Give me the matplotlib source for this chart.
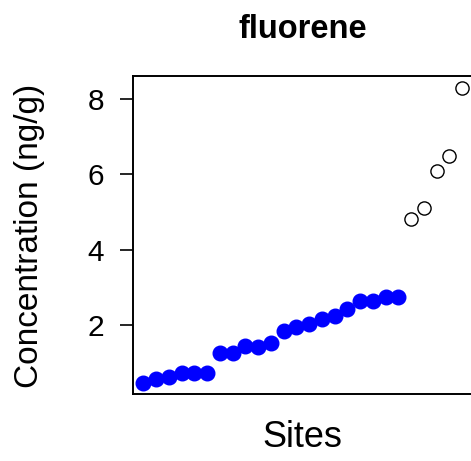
import matplotlib
matplotlib.use("Agg")
import matplotlib.pyplot as plt
import numpy as np

plt.rcParams['font.family'] = ['Liberation Sans', 'DejaVu Sans']

title = "fluorene"
xlabel = "Sites"
ylabel = "Concentration (ng/g)"

# values below the outlier threshold (filled blue), sorted by site rank
normal_values = [0.46, 0.56, 0.63, 0.74, 0.72, 0.72,
                 1.27, 1.25, 1.45, 1.43, 1.54,
                 1.85, 1.94, 2.03, 2.16, 2.24, 2.42, 2.65, 2.65, 2.74, 2.74]
# high values (open circles)
high_values = [4.81, 5.12, 6.10, 6.49, 8.28]
yticks = [2, 4, 6, 8]

n_norm = len(normal_values)
x_norm = np.arange(1, n_norm + 1)
x_high = np.arange(n_norm + 1, n_norm + len(high_values) + 1)

W, H = 471, 461
fig = plt.figure(figsize=(W / 100, H / 100), dpi=100)
left, right, top, bottom = 132.5, 473.0, 76.0, 394.0
ax = fig.add_axes([left / W, (H - bottom) / H, (right - left) / W, (bottom - top) / H])

ax.plot(x_norm, normal_values, linestyle='none', marker='o', markersize=10.5,
        color='#0000ff', markeredgecolor='#0000ff', clip_on=False)
ax.plot(x_high, high_values, linestyle='none', marker='o', markersize=9.5,
        markerfacecolor='none', markeredgecolor='black', markeredgewidth=1.0, clip_on=False)

ax.set_xlim(0.15, 26.85)
ax.set_ylim(0.175, 8.61)
ax.set_xticks([])
ax.set_yticks(yticks)
ax.set_yticklabels([str(t) for t in yticks])
ax.tick_params(axis='y', direction='out', length=9.5, width=1.2, pad=11, labelsize=21.5)
for s in ax.spines.values():
    s.set_linewidth(1.4)

fig.text((left + right) / 2 / W, 1 - 38 / H, title, ha='center', va='baseline',
         fontsize=23.5, fontweight='bold')
fig.text((left + right) / 2 / W, 1 - 447 / H, xlabel, ha='center', va='baseline',
         fontsize=26)
fig.text(30 / W, 1 - 236 / H, ylabel, ha='center', va='center', rotation=90,
         fontsize=24)

fig.savefig("out.png", dpi=100)
